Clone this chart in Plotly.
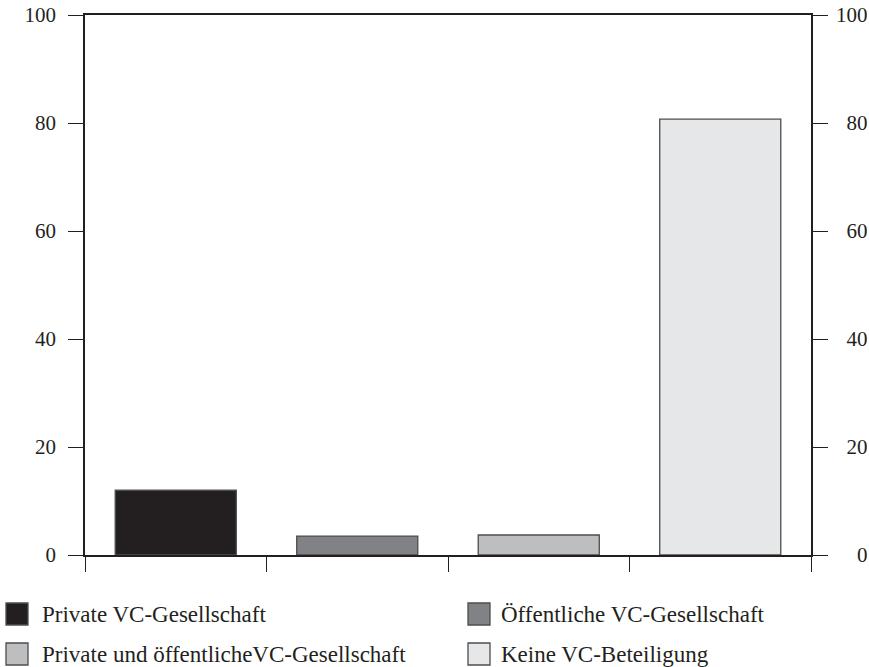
import plotly.graph_objects as go

categories = ["Private VC-Gesellschaft", "Öffentliche VC-Gesellschaft",
              "Private und öffentlicheVC-Gesellschaft", "Keine VC-Beteiligung"]
values = [12.0, 3.5, 3.7, 80.7]
colors = ["#231f20", "#808285", "#bcbec0", "#e6e7e8"]
y_ticks = [0, 20, 40, 60, 80, 100]

FONT = "Liberation Serif, Times New Roman, serif"
AX = "#231f20"
EDGE = "#4d4d4f"
W, H = 869, 667
ML, MR, MT, MB = 85, 58, 15, 112
PW, PH = W - ML - MR, H - MT - MB


def px_x(px):
    return (px - ML) / PW


def px_y(py):
    return (H - MB - py) / PH


# right-hand labels are right-aligned in the reference: pad with no-break spaces
# (two spaces = one digit width in a Times-metric font)
right_text = ["\u00a0" * (2 * (3 - len(str(t)))) + str(t) for t in y_ticks]

fig = go.Figure()
for i, (name, v, c) in enumerate(zip(categories, values, colors)):
    fig.add_trace(go.Bar(
        x=[i], y=[v], name=name, width=0.667,
        marker=dict(color=c, line=dict(color=EDGE, width=1.3)),
        showlegend=False,
    ))
# invisible trace for the right axis
fig.add_trace(go.Scatter(x=[0], y=[0], yaxis="y2", mode="markers",
                         marker=dict(opacity=0), showlegend=False, hoverinfo="skip"))

# manual legend: (square left px, text left px, row center px)
leg_pos = [(6, 40, 614), (468, 499, 614), (6, 40, 654), (468, 499, 654)]
SQ = 22
shapes, annotations = [], []
for (sx, tx, cy), name, c in zip(leg_pos, categories, colors):
    shapes.append(dict(
        type="rect", xref="paper", yref="paper",
        x0=px_x(sx), x1=px_x(sx + SQ), y0=px_y(cy + SQ / 2), y1=px_y(cy - SQ / 2),
        fillcolor=c, line=dict(color=EDGE, width=1.3), layer="above",
    ))
    annotations.append(dict(
        xref="paper", yref="paper", x=px_x(tx), y=px_y(cy),
        xanchor="left", yanchor="middle", text=name, showarrow=False,
        font=dict(family=FONT, size=23, color="#231f20"),
    ))

fig.update_layout(
    width=W, height=H,
    margin=dict(l=ML, r=MR, t=MT, b=MB, autoexpand=False),
    paper_bgcolor="white", plot_bgcolor="white",
    barmode="overlay",
    font=dict(family=FONT, size=21, color="#231f20"),
    xaxis=dict(range=[-0.5, 3.5], tickvals=[-0.5, 0.5, 1.5, 2.5, 3.5],
               showticklabels=False, ticks="outside", ticklen=15, tickwidth=1.3,
               tickcolor=AX, showline=True, linecolor=AX, linewidth=1.5,
               mirror=True, showgrid=False, zeroline=False, fixedrange=True),
    yaxis=dict(range=[0, 100], tickvals=y_ticks, ticks="outside", ticklen=15,
               tickwidth=1.3, tickcolor=AX, showline=True, linecolor=AX,
               linewidth=1.5, showgrid=False, zeroline=False,
               ticklabelstandoff=8, fixedrange=True),
    yaxis2=dict(range=[0, 100], tickvals=y_ticks, ticktext=right_text,
                overlaying="y", side="right",
                ticks="outside", ticklen=15, tickwidth=1.3, tickcolor=AX,
                showline=True, linecolor=AX, linewidth=1.5, showgrid=False,
                zeroline=False, ticklabelstandoff=4, fixedrange=True),
    shapes=shapes,
    annotations=annotations,
)

fig.write_html("out.html", config={"displayModeBar": False},
               post_script="document.body.style.margin='0';")
